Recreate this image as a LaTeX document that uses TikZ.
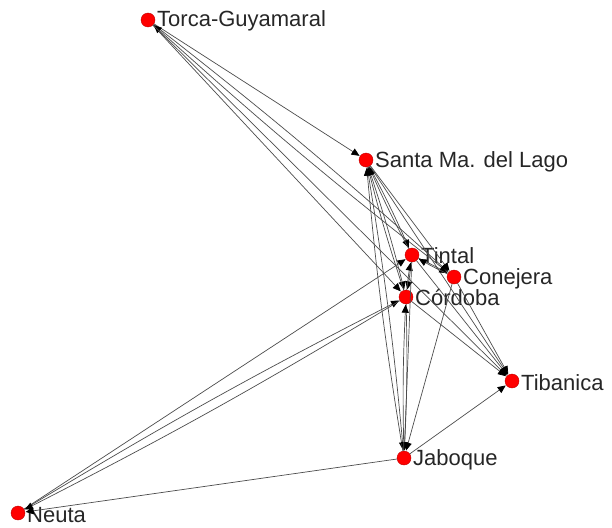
\documentclass[tikz,border=0pt]{standalone}
\usepackage{fontspec}
\setmainfont{Liberation Sans}
\usetikzlibrary{arrows.meta}
\tikzset{
  actor/.style={circle, fill=red, draw=red!75!black, line width=0.4pt, minimum size=14pt, inner sep=0pt},
  lbl/.style={font=\fontsize{22}{25}\selectfont, text=black!85, inner sep=1pt},
  tie/.style={draw=black!70, line width=0.7pt, -{Triangle[length=8pt,width=7pt,color=black]}, shorten >=0.5pt},
  tier/.style={tie, bend left=2}
}
\begin{document}
\begin{tikzpicture}[x=1pt,y=-1pt]
\useasboundingbox (0,0) rectangle (612,527);
\node[actor] (torca) at (148,20) {};
\node[actor] (santa) at (366,160) {};
\node[actor] (tintal) at (412,255) {};
\node[actor] (conejera) at (454,277) {};
\node[actor] (cordoba) at (406,297) {};
\node[actor] (tibanica) at (512,381) {};
\node[actor] (jaboque) at (404,458) {};
\node[actor] (neuta) at (18,513) {};
\node[lbl, anchor=west] (ltorca) at (156,21) {Torca-Guyamaral};
\node[lbl, anchor=west] (lsanta) at (374,162) {Santa Ma. del Lago};
\node[lbl, anchor=west] (ltintal) at (420,256) {Tintal};
\node[lbl, anchor=west] (lconejera) at (462,279) {Conejera};
\node[lbl, anchor=west] (lcordoba) at (414,298) {Córdoba};
\node[lbl, anchor=west] (ltibanica) at (520,383) {Tibanica};
\node[lbl, anchor=west] (ljaboque) at (412,460) {Jaboque};
\node[lbl, anchor=west] (lneuta) at (26,515) {Neuta};
% Torca
\draw[tie] (torca) -- (santa);
\draw[tie] (torca) -- (cordoba);
\draw[tier] (torca) to (conejera);
\draw[tier] (conejera) to (torca);
\draw[tie] (torca) -- (tibanica);
% Santa
\draw[tier] (santa) to (tintal);
\draw[tier] (tintal) to (santa);
\draw[tier] (santa) to (cordoba);
\draw[tier] (cordoba) to (santa);
\draw[tier] (santa) to (jaboque);
\draw[tier] (jaboque) to (santa);
\draw[tie] (santa) -- (conejera);
\draw[tie] (santa) -- (tibanica);
% core
\draw[tier] (tintal) to (cordoba);
\draw[tier] (cordoba) to (tintal);
\draw[tier] (tintal) to (conejera);
\draw[tier] (conejera) to (tintal);
\draw[tie] (tintal) -- (tibanica);
\draw[tie] (cordoba) -- (tibanica);
\draw[tie] (conejera) -- (tibanica);
\draw[tie] (jaboque) -- (tibanica);
\draw[tie] (tintal) -- (jaboque);
\draw[tier] (cordoba) to (jaboque);
\draw[tier] (jaboque) to (cordoba);
\draw[tie] (conejera) -- (jaboque);
% Neuta
\draw[tie] (neuta) -- (tintal);
\draw[tier] (neuta) to (cordoba);
\draw[tier] (cordoba) to (neuta);
\draw[tie] (jaboque) -- (neuta);
\end{tikzpicture}
\end{document}
